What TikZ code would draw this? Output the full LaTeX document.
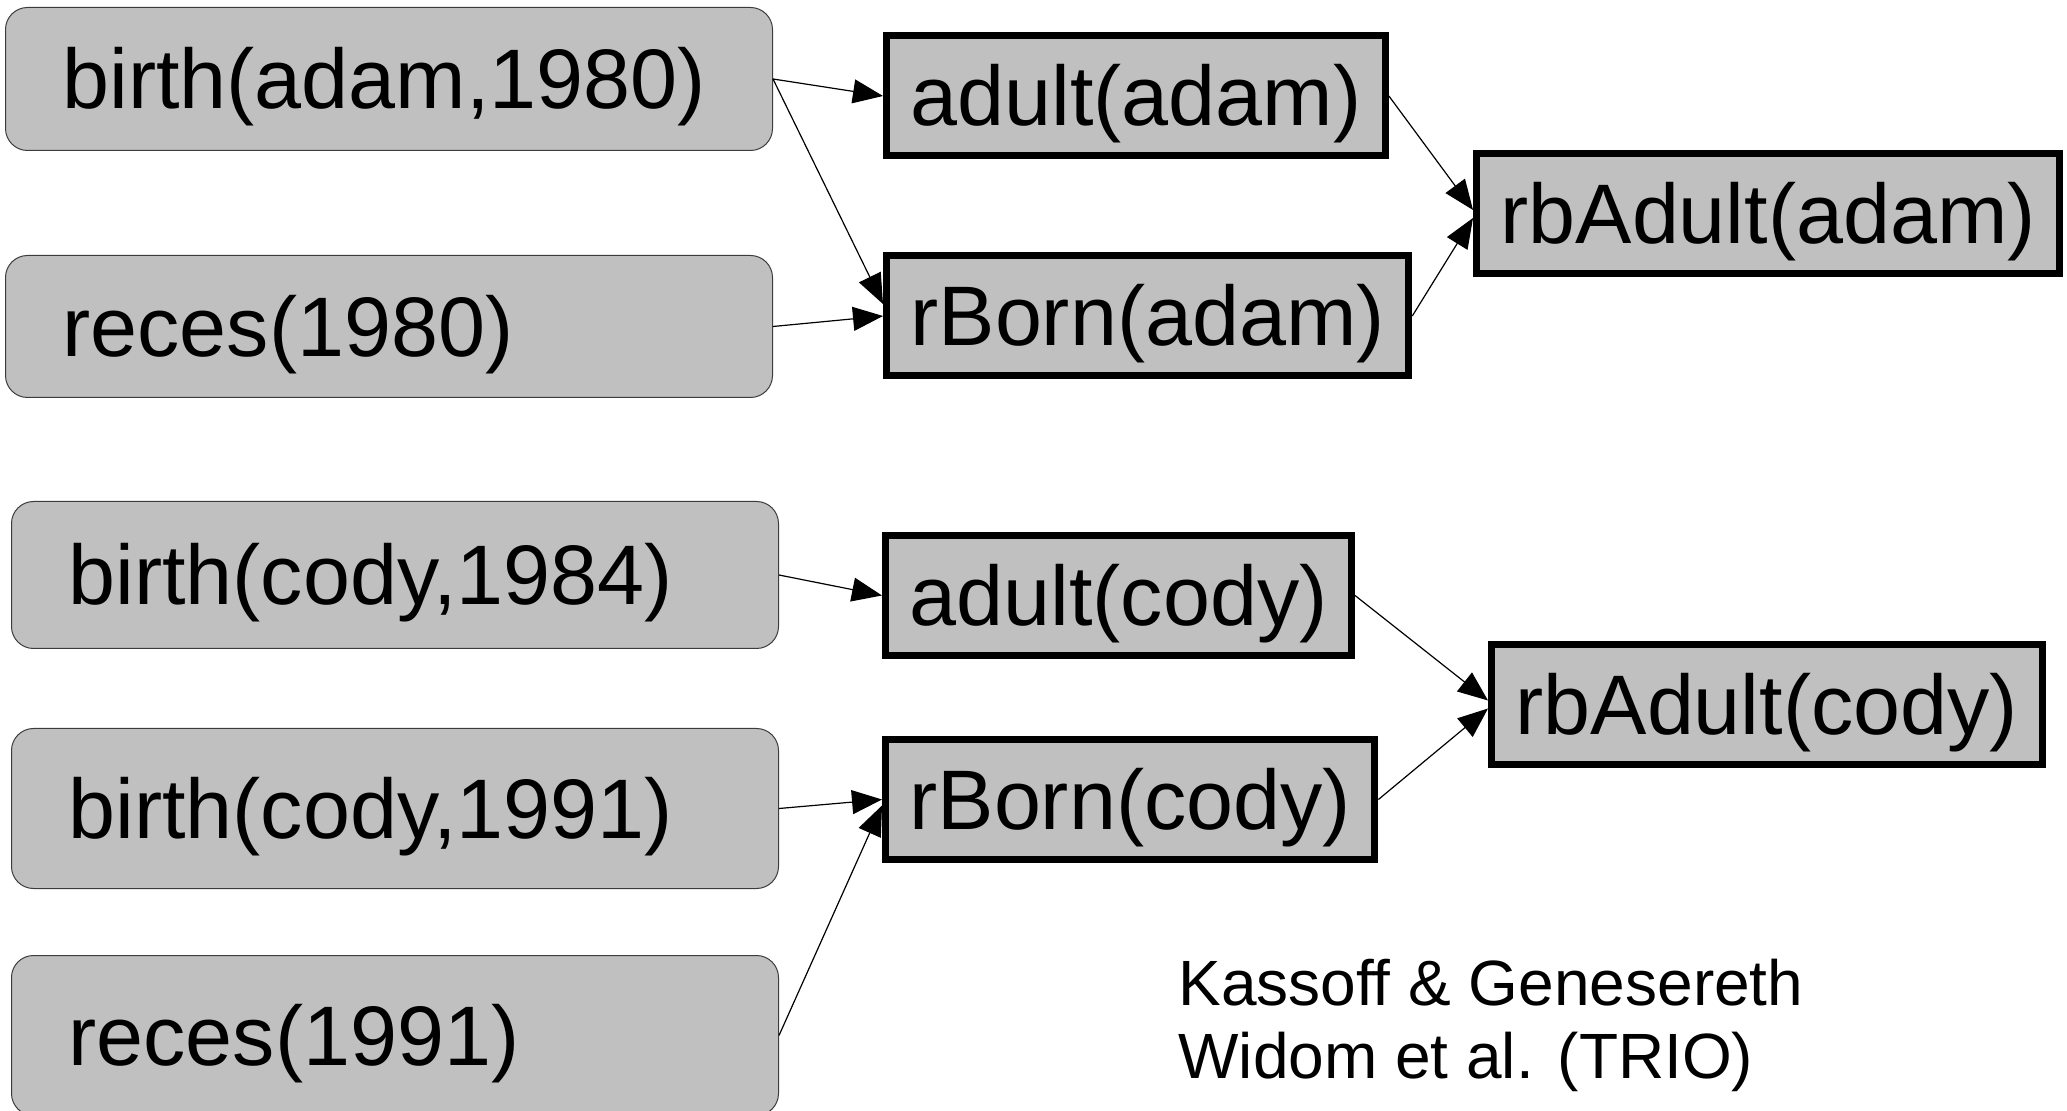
\documentclass[tikz,border=0pt]{standalone}
\usepackage{fontspec}
\setmainfont{Liberation Sans}
\usetikzlibrary{arrows.meta}
\definecolor{boxgray}{RGB}{192,192,192}
\definecolor{rimgray}{RGB}{60,60,60}
\tikzset{
  fact/.style={draw=rimgray, line width=0.5pt, fill=boxgray, rounded corners=11pt,
    inner xsep=28.5pt, text width=326.5pt, align=left, text height=29.6pt, text depth=0pt,
    font=\fontsize{42.25pt}{50pt}\selectfont},
  rule/.style={draw, line width=3.5pt, fill=boxgray, inner xsep=12pt, minimum height=60pt,
    anchor=west, text height=29.6pt, text depth=0pt, font=\fontsize{42.25pt}{50pt}\selectfont},
  link/.style={draw, line width=0.6pt, -{Triangle[length=15pt,width=12pt]}}
}
\begin{document}
\begin{tikzpicture}[x=0.5pt,y=-0.5pt]
\useasboundingbox (0,0) rectangle (2067,1111);
\node[fact, minimum height=71.5pt] (1) at (389,79) {birth(adam,1980)};
\node[fact, minimum height=71pt] (2) at (389,326.5) {reces(1980)};
\node[fact, minimum height=73.5pt] (3) at (395,575) {birth(cody,1984)};
\node[fact, minimum height=80pt] (4) at (395,808.5) {birth(cody,1991)};
\node[fact, minimum height=80pt] (5) at (395,1035.5) {reces(1991)};
\node[rule] (6) at (883,96) {adult(adam)};
\node[rule] (7) at (883,316) {rBorn(adam)};
\node[rule] (8) at (1473,214) {rbAdult(adam)};
\node[rule] (9) at (882,595.5) {adult(cody)};
\node[rule] (10) at (882,799.5) {rBorn(cody)};
\node[rule] (11) at (1488,704.5) {rbAdult(cody)};
\node[anchor=base west, align=left, inner sep=0pt, font=\fontsize{32pt}{36.5pt}\selectfont] (12) at (1178,1078) {Kassoff \& Genesereth\\Widom et al. (TRIO)};
\path[link] (1.east) -- (6.west);
\path[link] (1.east) -- ([yshift=6pt]7.west);
\path[link] (2.east) -- (7.west);
\path[link] (6.east) -- ([yshift=2pt]8.west);
\path[link] (7.east) -- ([yshift=-2pt]8.west);
\path[link] (3.east) -- (9.west);
\path[link] (4.east) -- (10.west);
\path[link] (5.east) -- ([yshift=-3pt]10.west);
\path[link] (9.east) -- ([yshift=2pt]11.west);
\path[link] (10.east) -- ([yshift=-2pt]11.west);
\end{tikzpicture}
\end{document}
